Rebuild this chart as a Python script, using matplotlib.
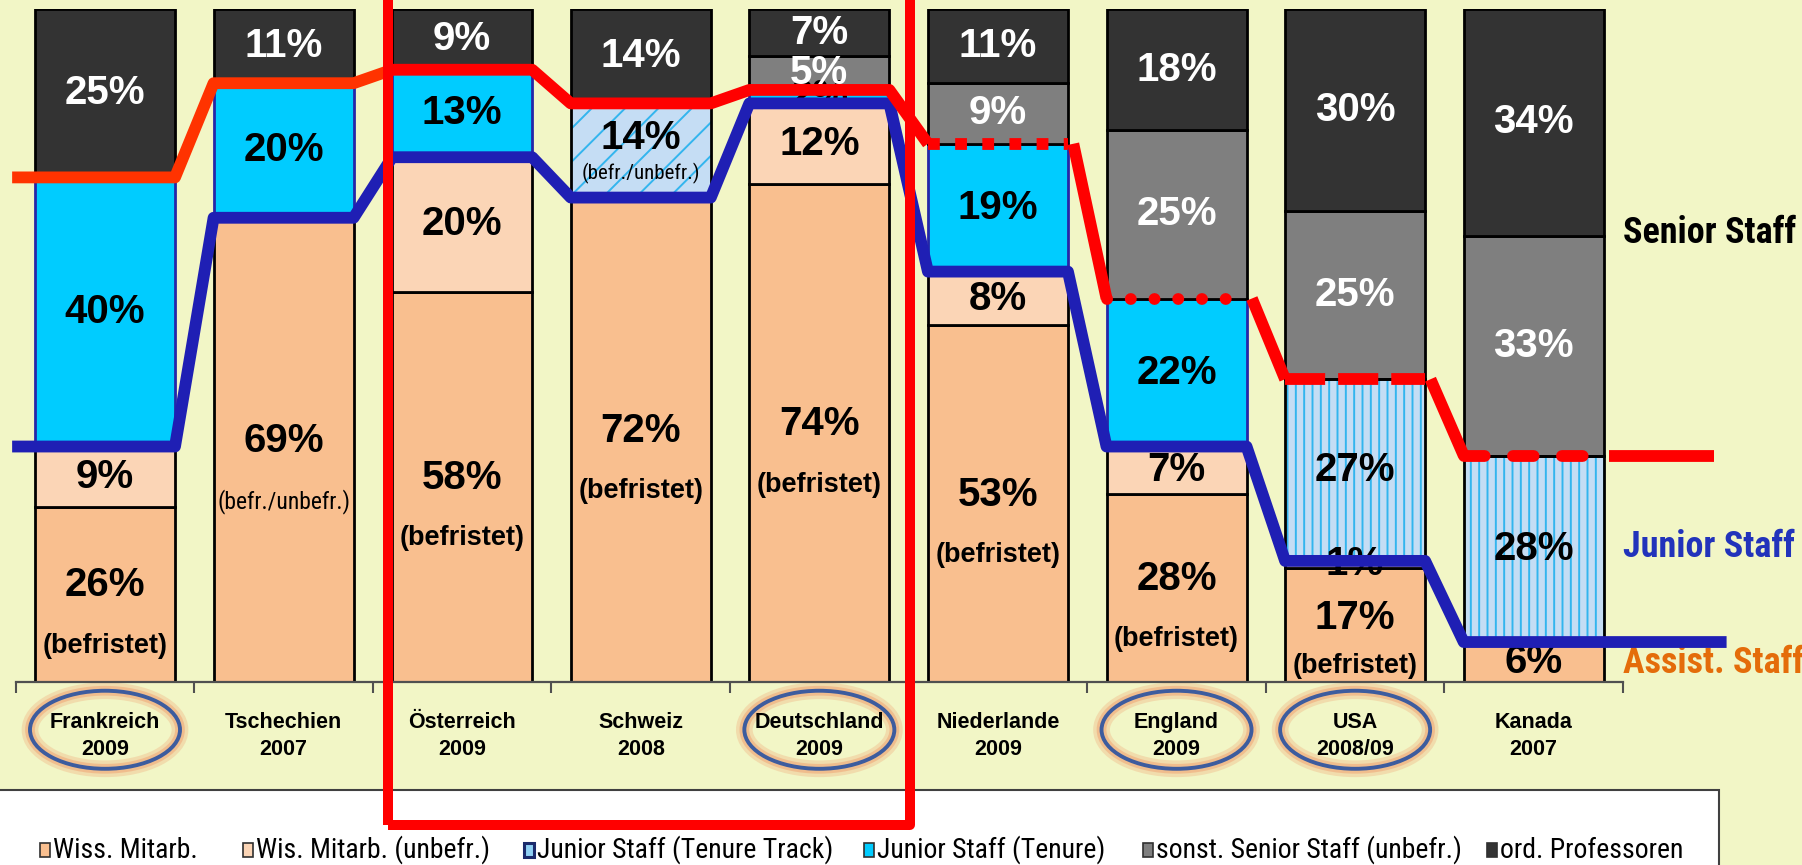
import numpy as np
import matplotlib
matplotlib.use("Agg")
import matplotlib.pyplot as plt
from matplotlib import font_manager as fm
from matplotlib.patches import Ellipse, Rectangle

plt.rcParams['font.family'] = ['Liberation Sans', 'DejaVu Sans']
plt.rcParams['hatch.linewidth'] = 1.4

# data (shares in %, bottom to top)
countries = ["Frankreich\n2009", "Tschechien\n2007", "Österreich\n2009", "Schweiz\n2008",
             "Deutschland\n2009", "Niederlande\n2009", "England\n2009", "USA\n2008/09",
             "Kanada\n2007"]
wiss_befr = [26, 69, 58, 72, 74, 53, 28, 17, 6]
wiss_unbefr = [9, 0, 20, 0, 12, 8, 7, 1, 0]
junior_tt = [0, 0, 0, 14, 0, 0, 0, 27, 28]
junior_tenure = [40, 20, 13, 0, 2, 19, 22, 0, 0]
senior_other = [0, 0, 0, 0, 5, 9, 25, 25, 33]
professors = [25, 11, 9, 14, 7, 11, 18, 30, 34]
notes_wiss = ["(befristet)", "(befr./unbefr.)", "(befristet)", "(befristet)", "(befristet)",
              "(befristet)", "(befristet)", "(befristet)", ""]
notes_tt = ["", "", "", "(befr./unbefr.)", "", "", "", "", ""]
circled = [0, 4, 6, 7]
legend_labels = ["Wiss. Mitarb.", "Wis. Mitarb. (unbefr.)", "Junior Staff (Tenure Track)",
                 "Junior Staff (Tenure)", "sonst. Senior Staff (unbefr.)", "ord. Professoren"]

# styles
W, H = 1802, 865
BG = '#F2F6C6'
colors = ['#F9BF8F', '#FBD5B6', '#C5DDF4', '#00CCFF', '#7F7F7F', '#333333']
edge_cols = ['black', 'black', 'black', '#2626A8', 'black', 'black']
text_cols = ['black', 'black', 'black', 'black', 'white', 'white']
tt_hatch = ['', '', '', '/', '', '', '', '||', '||']
RED, ORANGE_RED, BLUE = '#FF0000', '#FF3300', '#1F1FB4'
LW = 8.5


def narrow_family():
    # condensed face if one is installed, otherwise a smaller regular face
    for fam in ['Liberation Sans Narrow', 'Arial Narrow', 'Roboto Condensed',
                'Open Sans Condensed']:
        try:
            fm.findfont(fm.FontProperties(family=fam), fallback_to_default=False)
            return fam, 1.0
        except ValueError:
            pass
    return 'Liberation Sans', 0.82


NARROW_FAM, NS = narrow_family()
NARROW = [NARROW_FAM, 'DejaVu Sans']


def fx(px):
    return px / W


def fy(py):
    return 1 - py / H


fig = plt.figure(figsize=(W / 100, H / 100), dpi=100)
fig.patch.set_facecolor(BG)

ax = fig.add_axes([fx(15.7), fy(682), fx(1623 - 15.7), (682 - 9.2) / H])
ax.set_xlim(-0.5, 8.5)
ax.set_ylim(0, 100)
ax.patch.set_visible(False)
for s in ['top', 'left', 'right']:
    ax.spines[s].set_visible(False)
ax.spines['bottom'].set_color('#505050')
ax.spines['bottom'].set_linewidth(1.6)
ax.set_xticks(np.arange(-0.5, 9, 1))
ax.set_xticklabels([])
ax.tick_params(axis='x', length=8, width=1.5, color='#505050', direction='out')
ax.set_yticks([])

series = np.array([wiss_befr, wiss_unbefr, junior_tt, junior_tenure, senior_other, professors],
                  dtype=float)
shares = series / series.sum(axis=0) * 100
tops = np.cumsum(shares, axis=0)
bottoms = tops - shares
x = np.arange(len(countries))
bw = 0.784
hw = bw / 2

# stacked bars
for k in range(len(series)):
    for i in x:
        h = shares[k, i]
        if h <= 0:
            continue
        if k == 2:
            ax.bar(i, h, bw, bottoms[k, i], color=colors[k], edgecolor='#33B5EE',
                   hatch=tt_hatch[i], linewidth=0, zorder=2)
            ax.bar(i, h, bw, bottoms[k, i], fill=False, edgecolor='black', linewidth=2, zorder=2.1)
        else:
            ax.bar(i, h, bw, bottoms[k, i], color=colors[k], edgecolor=edge_cols[k],
                   linewidth=2, zorder=2)

# value labels
for k in range(len(series)):
    for i in x:
        v = series[k, i]
        if v <= 0:
            continue
        c = bottoms[k, i] + shares[k, i] / 2
        note = notes_wiss[i] if k == 0 else (notes_tt[i] if k == 2 else '')
        yv = c
        if note:
            if k == 2:
                gap = 0.38 * shares[k, i]
                yv = c + 0.35 * gap
            else:
                gap = min(9, 0.42 * shares[k, i])
                yv = c + 0.15 * gap
            if note == '(befristet)':
                ax.text(i, yv - gap, note, ha='center', va='center', fontsize=19.5,
                        fontweight='bold', color='black', zorder=3)
            else:
                ax.text(i, yv - gap, note, ha='center', va='center',
                        fontsize=(17 if k == 0 else 15) * NS,
                        family=NARROW, color='black', zorder=3)
        ax.text(i, yv, f'{v:.0f}%', ha='center', va='center', fontsize=29,
                fontweight='bold', color=text_cols[k], zorder=3)

# boundary lines
red = tops[3]
blue = tops[1]


def line(xs, ys, color, ls='-', cap='butt', lw=LW):
    ax.plot(xs, ys, color=color, lw=lw, ls=ls, dash_capstyle=cap, solid_capstyle='butt',
            solid_joinstyle='round', clip_on=False, zorder=5)


# blue: assistant / junior
bx, by = [-0.52], [blue[0]]
for i in x:
    bx += [i - hw, i + hw]
    by += [blue[i], blue[i]]
bx.append(9.08)
by.append(blue[-1])
line(bx, by, BLUE)

# red: junior / senior
line([-0.52, hw, 1 - hw, 1 + hw, 2 - hw], [red[0], red[0], red[1], red[1], red[2]], ORANGE_RED)
rx, ry = [], []
for i in range(2, 5):
    rx += [i - hw, i + hw]
    ry += [red[i], red[i]]
rx.append(5 - hw)
ry.append(red[5])
line(rx, ry, RED)

red_ls = [(0, (1.0, 1.3)), (0, (0.01, 2.0)), (0, (3.4, 1.1)), (0, (1.75, 2.4))]
red_caps = ['butt', 'round', 'butt', 'round']
for j, i in enumerate(range(5, 9)):
    line([i - hw, i + hw], [red[i], red[i]], RED, ls=red_ls[j], cap=red_caps[j])
    if i < 8:
        line([i + hw + 0.03, i + 1 - hw], [red[i], red[i + 1]], RED)
line([8 + hw + 0.03, 9.01], [red[8], red[8]], RED)

# category labels and circles
for i, name in enumerate(countries):
    ax.text(i, -8.0, name, ha='center', va='center', fontsize=15.5, fontweight='bold',
            linespacing=1.4, clip_on=False)
for i in circled:
    for lw, a in [(12, 0.3), (7, 0.5)]:
        ax.add_patch(Ellipse((i, -7.1), 0.84, 11.6, fill=False, ec='#F0A070', lw=lw,
                             alpha=a, clip_on=False))
    ax.add_patch(Ellipse((i, -7.1), 0.84, 11.6, fill=False, ec='#3D5C9E', lw=2.8,
                         clip_on=False))

# group labels on the right
ax.text(8.5, 66.7, 'Senior Staff', color='black', fontsize=26 * NS, fontweight='bold',
        family=NARROW, ha='left', va='center', clip_on=False)
ax.text(8.5, 20.1, 'Junior Staff', color='#2233BB', fontsize=26 * NS, fontweight='bold',
        family=NARROW, ha='left', va='center', clip_on=False)
ax.text(8.5, 2.8, 'Assist. Staff', color='#E46C0A', fontsize=26 * NS, fontweight='bold',
        family=NARROW, ha='left', va='center', clip_on=False)

# legend box
fig.patches.append(Rectangle((-0.01, -0.01), fx(1719) + 0.01, fy(790) + 0.01,
                             transform=fig.transFigure, fc='white', ec='#404040', lw=1.5,
                             zorder=1))
leg_x = [40, 243, 524, 864, 1143, 1487]
for k, lab in enumerate(legend_labels):
    ec, elw = ('#1A2A6C', 2.2) if k == 2 else ('#303030', 1.2)
    fc = '#8FD0F4' if k == 2 else colors[k]
    fig.patches.append(Rectangle((fx(leg_x[k]), fy(857)), 10 / W, 14 / H,
                                 transform=fig.transFigure, fc=fc, ec=ec, lw=elw, zorder=2))
    fig.text(fx(leg_x[k] + 13), fy(850), lab, fontsize=20 * NS, family=NARROW, va='center',
             ha='left', zorder=3)

# highlight frame
fig.patches.append(Rectangle((fx(388), fy(825)), fx(910 - 388), 1.1,
                             transform=fig.transFigure, fill=False, ec=RED, lw=7.2,
                             joinstyle='round', zorder=20))

fig.savefig('out.png', dpi=100, facecolor=BG)
